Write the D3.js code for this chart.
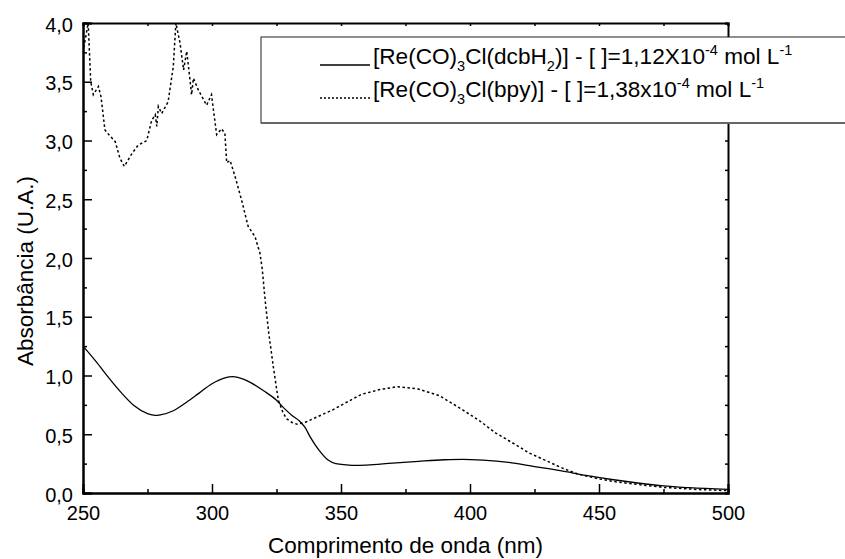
<!DOCTYPE html>
<html>
<head>
<meta charset="utf-8">
<script src="https://cdn.jsdelivr.net/npm/d3@7"></script>
<style>
  body { margin: 0; background: #fff; }
  svg text { font-family: "Liberation Sans", Arial, sans-serif; fill: #000; }
</style>
</head>
<body>
<div id="chart"></div>
<script>
// wavelength (nm) and absorbance
var nm_dcb = [250,255,260,265,270,275,278,280,285,290,295,300,305,308,310,315,320,325,328,331,334,336,338,340,342,345,348,352,356,360,370,380,390,397,405,415,425,435,445,455,465,475,485,500];
var abs_dcb = [1.25,1.12,0.98,0.85,0.74,0.675,0.66,0.665,0.70,0.77,0.85,0.93,0.98,0.99,0.985,0.94,0.87,0.79,0.72,0.66,0.61,0.56,0.48,0.41,0.35,0.28,0.25,0.24,0.235,0.238,0.255,0.27,0.283,0.287,0.28,0.26,0.225,0.19,0.15,0.115,0.085,0.06,0.045,0.03];

var nm_bpy = [250,252,253,254,256,257,258.5,260,262.5,264.3,266,269,271.4,274.7,276.6,278,278.6,279.2,280.5,283,285,286,287.6,289,290.2,291.5,292.1,292.8,294.7,297.9,299.8,301.8,303.7,305,305.7,307,309,311.5,314,316.7,318.6,319.5,320.6,322,323.8,325.7,327.6,329,331,333,336,340,347,352,358,365,372,380,388,397,404,410,417,423,430,436,442,449,455,462,475,488,500];
var abs_bpy = [3.75,4.0,3.5,3.39,3.46,3.37,3.09,3.05,2.99,2.85,2.78,2.89,2.96,3.0,3.17,3.22,3.12,3.29,3.23,3.33,3.63,4.0,3.83,3.60,3.76,3.51,3.39,3.53,3.43,3.30,3.39,3.05,3.10,3.06,2.81,2.83,2.69,2.49,2.27,2.18,2.04,1.90,1.64,1.36,1.07,0.79,0.68,0.63,0.60,0.585,0.60,0.64,0.71,0.77,0.84,0.88,0.905,0.885,0.83,0.71,0.61,0.51,0.42,0.34,0.27,0.21,0.16,0.125,0.10,0.08,0.048,0.03,0.02];

var x_ticks = [250,300,350,400,450,500];
var x_minor = [275,325,375,425,475];
var y_ticks = [0,0.5,1,1.5,2,2.5,3,3.5,4];
var y_minor = [0.25,0.75,1.25,1.75,2.25,2.75,3.25,3.75];

// legend labels: [text, 0 normal / 1 subscript / -1 superscript]
var legend_dcb = [["[Re(CO)",0],["3",1],["Cl(dcbH",0],["2",1],[")] - [ ]=1,12X10",0],["-4",-1],[" mol L",0],["-1",-1]];
var legend_bpy = [["[Re(CO)",0],["3",1],["Cl(bpy)] - [ ]=1,38x10",0],["-4",-1],[" mol L",0],["-1",-1]];

var margin = {top: 23, right: 117, bottom: 66, left: 83},
    width = 845 - margin.left - margin.right,
    height = 559 - margin.top - margin.bottom;

var svg = d3.select("#chart")
  .append("svg")
    .attr("width", 845)
    .attr("height", 559)
  .append("g")
    .attr("transform", "translate(" + margin.left + "," + margin.top + ")");

var x = d3.scaleLinear().domain([250, 500]).range([0, width]);
var y = d3.scaleLinear().domain([0, 4]).range([height, 0]);

svg.append("clipPath").attr("id", "clip")
  .append("rect").attr("width", width).attr("height", height);

// curves
var line = d3.line()
  .x(function(d) { return x(d[0]); })
  .y(function(d) { return y(d[1]); });

svg.append("path")
  .datum(d3.zip(nm_bpy, abs_bpy))
  .attr("clip-path", "url(#clip)")
  .attr("d", line)
  .style("fill", "none")
  .style("stroke", "#000")
  .style("stroke-width", 1.5)
  .style("stroke-dasharray", "2.5,2.5");

svg.append("path")
  .datum(d3.zip(nm_dcb, abs_dcb))
  .attr("clip-path", "url(#clip)")
  .attr("d", line.curve(d3.curveMonotoneX))
  .style("fill", "none")
  .style("stroke", "#000")
  .style("stroke-width", 1.3);

// Add X axis (ticks inside)
svg.append("g")
  .attr("class", "axis")
  .attr("transform", "translate(0," + height + ")")
  .call(d3.axisBottom(x).tickValues(x_ticks).tickSize(-9).tickPadding(13).tickFormat(d3.format("d")))
  .call(function(g) { g.selectAll("text").style("font-size", "20px"); });
svg.append("g")
  .attr("transform", "translate(0," + height + ")")
  .call(d3.axisBottom(x).tickValues(x_minor).tickSize(-4).tickFormat(""));

// Add Y axis
svg.append("g")
  .attr("class", "axis")
  .call(d3.axisLeft(y).tickValues(y_ticks).tickSize(-9).tickPadding(10)
    .tickFormat(function(d) { return d3.format(".1f")(d).replace(".", ","); }))
  .call(function(g) { g.selectAll("text").style("font-size", "20px").attr("dy", "0.4em"); });
svg.append("g")
  .call(d3.axisLeft(y).tickValues(y_minor).tickSize(-4).tickFormat(""));

// top and right axes, small ticks
svg.append("g")
  .call(d3.axisTop(x).tickValues(x_ticks.concat(x_minor)).tickSize(-3).tickFormat(""));
svg.append("g")
  .attr("transform", "translate(" + width + ",0)")
  .call(d3.axisRight(y).tickValues(y_ticks.concat(y_minor)).tickSize(-3).tickFormat(""));

svg.selectAll(".domain").style("stroke", "#000").style("stroke-width", 2);
svg.selectAll(".tick line").style("stroke", "#000").style("stroke-width", 1.5);

// axis titles
svg.append("text")
  .attr("x", width / 2)
  .attr("y", height + 60)
  .style("text-anchor", "middle")
  .style("font-size", "22.5px")
  .text("Comprimento de onda (nm)");

svg.append("text")
  .attr("transform", "translate(" + (33 - margin.left) + "," + (271 - margin.top) + ") rotate(-90)")
  .style("text-anchor", "middle")
  .style("font-size", "22.5px")
  .text("Absorbância (U.A.)");

// legend
var lg = svg.append("g").attr("transform", "translate(" + (261 - margin.left) + "," + (37 - margin.top) + ")");
lg.append("rect")
  .attr("width", 700)
  .attr("height", 86)
  .style("fill", "#fff")
  .style("stroke", "#222")
  .style("stroke-width", 1);
lg.append("line")
  .attr("x1", 0).attr("x2", 700).attr("y1", 86).attr("y2", 86)
  .style("stroke", "#666").style("stroke-width", 2);

function legendItem(parts, yy, dash) {
  lg.append("line")
    .attr("x1", 59).attr("x2", 109).attr("y1", yy + 1).attr("y2", yy + 1)
    .style("stroke", "#000")
    .style("stroke-width", dash ? 1.5 : 1.3)
    .style("stroke-dasharray", dash ? "2,2" : null);
  var t = lg.append("text").attr("x", 112).attr("y", yy).style("font-size", "22.6px");
  var shift = 0;
  parts.forEach(function(p) {
    var target = p[1] == 1 ? 7 : (p[1] == -1 ? -9 : 0);
    t.append("tspan")
      .attr("dy", target - shift)
      .style("font-size", p[1] == 0 ? "22.6px" : "14.5px")
      .text(p[0]);
    shift = target;
  });
}
legendItem(legend_dcb, 27, false);
legendItem(legend_bpy, 60, true);
</script>
</body>
</html>
